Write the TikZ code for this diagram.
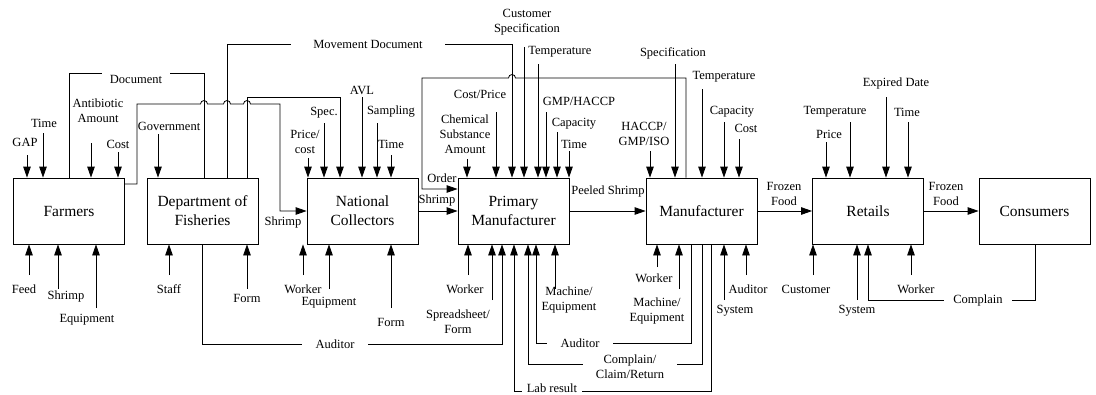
\documentclass[tikz,border=0pt]{standalone}
\usepackage{fontspec}
\setmainfont{Liberation Serif}
\usetikzlibrary{arrows.meta}
\newcommand\ind[4]{\coordinate (#1) at (#2,#3); \draw[arr] (#1) -- (#1 |- #4.north);}
\newcommand\inu[4]{\coordinate (#1) at (#2,#3); \draw[arr] (#1) -- (#1 |- #4.south);}
\begin{document}
\begin{tikzpicture}[x=1pt,y=-1pt,
  line width=0.8pt,
  box/.style={draw, minimum width=111pt, minimum height=66pt, inner sep=0pt, align=center, font=\fontsize{15.5}{19}\selectfont},
  lbl/.style={inner sep=1pt, align=center, font=\fontsize{12.5}{15}\selectfont},
  gaplbl/.style={lbl, fill=white, inner ysep=1pt},
  arr/.style={-{Triangle[length=11pt,width=7.5pt]}}]
\useasboundingbox (0,0) rectangle (1096,394);
% boxes
\node[box] (farm) at (69,211) {Farmers};
\node[box] (dof) at (202.5,211) {Department of\\Fisheries};
\node[box] (nc) at (362.5,211) {National\\Collectors};
\node[box] (pm) at (513.5,211) {Primary\\Manufacturer};
\node[box] (mfr) at (701.5,211) {Manufacturer};
\node[box] (ret) at (868,211) {Retails};
\node[box] (con) at (1034.5,211) {Consumers};

% ---- long connectors
\draw[arr] (farm.east |- 0,184) -- (137,184) -- (137,104) -- (200.5,104)
  arc[start angle=180,end angle=0,radius=3.5pt] -- (223.5,104)
  arc[start angle=180,end angle=0,radius=3.5pt] -- (243.5,104)
  arc[start angle=180,end angle=0,radius=3.5pt] -- (280,104) -- (280,211) -- (nc.west);
\draw (farm.north) -- (69,73) -| (dof.north -| 204,0);
\draw[arr] (dof.north -| 227,0) -- (227,44) -| (pm.north -| 512,0);
\draw[arr] (dof.north -| 247,0) -- (247,97) -| (nc.north -| 340,0);
\draw[arr] (mfr.north -| 686,0) -- (686,78) -- (515.5,78)
  arc[start angle=0,end angle=180,radius=3.5pt] -- (422,78) -- (422,189) -- (pm.west |- 0,189);
\draw[arr] (nc.east) -- (pm.west);
\draw[arr] (pm.east) -- (mfr.west);
\draw[arr] (mfr.east) -- (ret.west);
\draw[arr] (ret.east) -- (con.west);
\draw[arr] (dof.south -| 202,0) -- (202,344) -| (pm.south -| 502,0);
\draw[arr] (mfr.south -| 691,0) -- (691,343) -| (pm.south -| 536,0);
\draw[arr] (mfr.south -| 702,0) -- (702,364) -| (pm.south -| 528,0);
\draw[arr] (mfr.south -| 711,0) -- (711,391) -| (pm.south -| 514,0);
\draw[arr] (con.south -| 1035,0) -- (1035,300) -| (ret.south -| 868,0);

% gap labels
\node[gaplbl, inner xsep=8pt, inner ysep=5pt] (lDoc) at (136,79) {Document};
\node[gaplbl, inner xsep=22pt] (lMov) at (368,44) {Movement Document};
\node[gaplbl, inner xsep=14pt] (lAud1) at (335,344) {Auditor};
\node[gaplbl, inner xsep=14pt] (lAud2) at (580,343) {Auditor};
\node[gaplbl, inner xsep=13pt] (lCCR) at (630,367) {Complain/\\Claim/Return};
\node[gaplbl, inner xsep=5pt] (lLab) at (552,388) {Lab result};
\node[gaplbl, inner xsep=9pt] (lCom) at (978,300) {Complain};

% flow labels
\node[lbl] (lS1) at (283,222) {Shrimp};
\node[lbl] (lS2) at (437,200) {Shrimp};
\node[lbl] (lOrd) at (442,178) {Order};
\node[lbl] (lPS) at (608,191) {Peeled Shrimp};
\node[lbl] (lFF1) at (784,194) {Frozen\\Food};
\node[lbl] (lFF2) at (946,194) {Frozen\\Food};

% ---- Farmers
\node[lbl] (a1) at (25,142) {GAP}; \ind{c1}{27}{155}{farm}
\node[lbl] (a2) at (44,123) {Time}; \ind{c2}{43}{133}{farm}
\node[lbl] (a3) at (98,111) {Antibiotic\\Amount}; \ind{c3}{91}{143}{farm}
\node[lbl] (a4) at (118,144) {Cost}; \ind{c4}{118}{152}{farm}
\node[lbl] (a5) at (24,289) {Feed}; \inu{c5}{29}{275}{farm}
\node[lbl] (a6) at (66,296) {Shrimp}; \inu{c6}{58}{289}{farm}
\node[lbl] (a7) at (87,320) {Equipment}; \inu{c7}{96}{308}{farm}
% ---- DoF
\node[lbl] (b1) at (169,126) {Government}; \ind{d1}{158}{134}{dof}
\node[lbl] (b2) at (169,289) {Staff}; \inu{d2}{169}{275}{dof}
\node[lbl] (b3) at (247,298) {Form}; \inu{d3}{247}{289}{dof}
% ---- National Collectors
\node[lbl] (n1) at (305,142) {Price/\\cost}; \ind{e1}{308}{158}{nc}
\node[lbl] (n2) at (324,113) {Spec.}; \ind{e2}{324}{123}{nc}
\node[lbl] (n3) at (362,90) {AVL}; \ind{e3}{362}{97}{nc}
\node[lbl] (n4) at (391,112) {Sampling}; \ind{e4}{377}{123}{nc}
\node[lbl] (n5) at (391,144) {Time}; \ind{e5}{391}{155}{nc}
\node[lbl] (n6) at (303,289) {Worker}; \inu{e6}{303}{275}{nc}
\node[lbl] (n7) at (329,303) {Equipment}; \inu{e7}{329}{289}{nc}
\node[lbl] (n8) at (391,322) {Form}; \inu{e8}{391}{308}{nc}
% ---- Primary Manufacturer
\node[lbl] (p1) at (465,134) {Chemical\\Substance\\Amount}; \ind{g1}{467}{159}{pm}
\node[lbl] (p2) at (480,94) {Cost/Price}; \ind{g2}{496}{112}{pm}
\node[lbl] (p3) at (527,22) {Customer\\Specification}; \ind{g3}{524}{47}{pm}
\node[lbl, anchor=west] (p4) at (527,52) {Temperature}; \ind{g4}{538}{64}{pm}
\node[lbl] (p5) at (579,101) {GMP/HACCP}; \ind{g5}{546}{112}{pm}
\node[lbl] (p6) at (574,124) {Capacity}; \ind{g6}{557}{132}{pm}
\node[lbl] (p7) at (574,144) {Time}; \ind{g7}{569}{151}{pm}
\node[lbl] (p8) at (465,289) {Worker}; \inu{g8}{468}{275}{pm}
\node[lbl] (p9) at (458,322) {Spreadsheet/\\Form}; \inu{g9}{492}{300}{pm}
\node[lbl] (p10) at (569,300) {Machine/\\Equipment}; \inu{g10}{555}{289}{pm}
% ---- Manufacturer
\node[lbl] (m1) at (644,134) {HACCP/\\GMP/ISO}; \ind{h1}{650}{151}{mfr}
\node[lbl] (m2) at (673,53) {Specification}; \ind{h2}{675}{64}{mfr}
\node[lbl] (m3) at (724,77) {Temperature}; \ind{h3}{702}{89}{mfr}
\node[lbl] (m4) at (732,112) {Capacity}; \ind{h4}{724}{122}{mfr}
\node[lbl] (m5) at (746,128) {Cost}; \ind{h5}{739}{139}{mfr}
\node[lbl] (m6) at (654,278) {Worker}; \inu{h6}{657}{267}{mfr}
\node[lbl] (m7) at (657,311) {Machine/\\Equipment}; \inu{h7}{679}{289}{mfr}
\node[lbl] (m8) at (735,311) {System}; \inu{h8}{724}{300}{mfr}
\node[lbl] (m9) at (748,289) {Auditor}; \inu{h9}{746}{275}{mfr}
% ---- Retails
\node[lbl] (r1) at (829,134) {Price}; \ind{k1}{826}{142}{ret}
\node[lbl] (r2) at (835,112) {Temperature}; \ind{k2}{850}{122}{ret}
\node[lbl] (r3) at (896,83) {Expired Date}; \ind{k3}{886}{97}{ret}
\node[lbl] (r4) at (907,112) {Time}; \ind{k4}{908}{122}{ret}
\node[lbl] (r5) at (806,289) {Customer}; \inu{k5}{813}{275}{ret}
\node[lbl] (r6) at (857,311) {System}; \inu{k6}{857}{300}{ret}
\node[lbl] (r7) at (916,289) {Worker}; \inu{k7}{911}{275}{ret}
\end{tikzpicture}
\end{document}
